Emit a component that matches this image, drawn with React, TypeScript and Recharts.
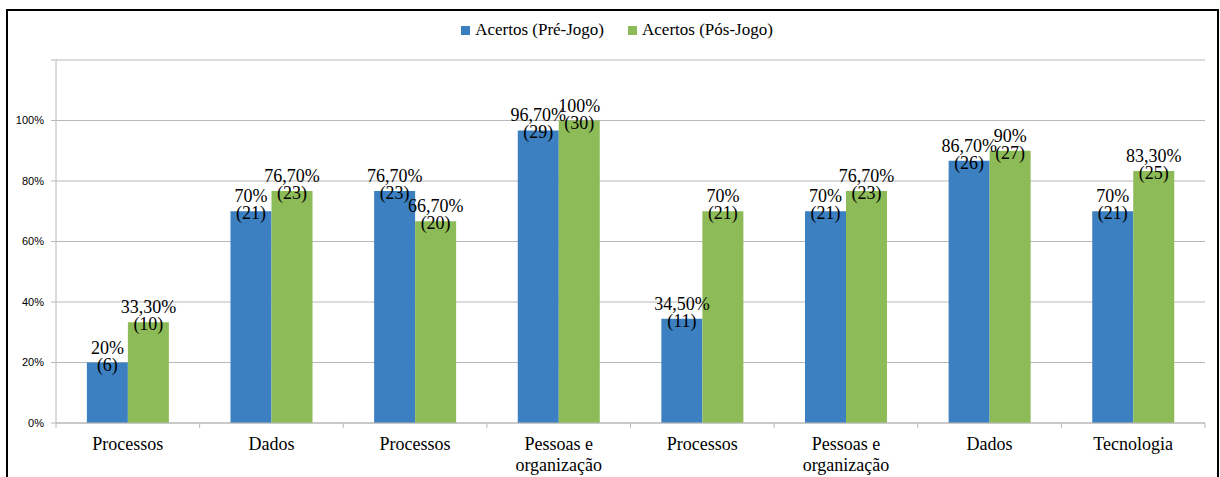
import { Bar, BarChart, CartesianGrid, LabelList, Legend, Text, XAxis, YAxis } from 'recharts'

const categories = [
	'Processos',
	'Dados',
	'Processos',
	'Pessoas e organização',
	'Processos',
	'Pessoas e organização',
	'Dados',
	'Tecnologia',
]
const preJogo = [20, 70, 76.7, 96.7, 34.5, 70, 86.7, 70]
const preCount = [6, 21, 23, 29, 11, 21, 26, 21]
const posJogo = [33.3, 76.7, 66.7, 100, 70, 76.7, 90, 83.3]
const posCount = [10, 23, 20, 30, 21, 23, 27, 25]
const yTicks = [0, 20, 40, 60, 80, 100, 120]

const BLUE = '#3C80C1'
const GREEN = '#8DBB58'
const GRID = '#B8B8B8'
const SERIF = 'Liberation Serif, Tinos, DejaVu Serif, Times New Roman, Times, serif'

const WIDTH = 1220
const HEIGHT = 477
const MARGIN = { top: 60, right: 15, bottom: 0, left: 0 }
const Y_WIDTH = 56
const BAND = (WIDTH - MARGIN.right - MARGIN.left - Y_WIDTH) / categories.length

// "76,70%" style, integers without decimals
const fmtPct = (v: number) =>
	Number.isInteger(v) ? `${v}%` : `${v.toFixed(2).replace('.', ',')}%`

const data = categories.map((name, i) => ({
	name,
	pre: preJogo[i],
	pos: posJogo[i],
	preLabel: `${fmtPct(preJogo[i])}|(${preCount[i]})`,
	posLabel: `${fmtPct(posJogo[i])}|(${posCount[i]})`,
}))

const TwoLineLabel = (props: any) => {
	const { x, y, width, value } = props
	const [top, bottom] = String(value).split('|')
	const cx = Number(x) + Number(width) / 2
	return (
		<text
			x={cx}
			y={Number(y) - 9}
			textAnchor='middle'
			style={{ fontFamily: SERIF, fontSize: 18 }}
			fill='#000'
		>
			<tspan x={cx}>{top}</tspan>
			<tspan x={cx} dy={17}>
				{bottom}
			</tspan>
		</text>
	)
}

// category label plus tick marks on the band boundaries
const CategoryTick = (props: any) => {
	const { x, y, payload, index } = props
	const left = x - BAND / 2
	return (
		<g>
			<line x1={left} x2={left} y1={y} y2={y + 5} stroke={GRID} />
			{index === categories.length - 1 && (
				<line x1={x + BAND / 2} x2={x + BAND / 2} y1={y} y2={y + 5} stroke={GRID} />
			)}
			<Text
				x={x}
				y={y + 14}
				width={BAND - 10}
				textAnchor='middle'
				verticalAnchor='start'
				lineHeight={21}
				style={{ fontFamily: SERIF, fontSize: 18 }}
				fill='#000'
			>
				{payload.value}
			</Text>
		</g>
	)
}

const LegendContent = () => (
	<div
		style={{
			display: 'flex',
			justifyContent: 'center',
			gap: 24,
			paddingLeft: 14,
			fontFamily: SERIF,
			fontSize: 17,
			color: '#000',
		}}
	>
		{[
			{ label: 'Acertos (Pré-Jogo)', color: BLUE },
			{ label: 'Acertos (Pós-Jogo)', color: GREEN },
		].map(item => (
			<div key={item.label} style={{ display: 'flex', alignItems: 'center', gap: 5 }}>
				<span style={{ width: 9, height: 9, background: item.color, display: 'inline-block' }} />
				<span>{item.label}</span>
			</div>
		))}
	</div>
)

export default function App() {
	return (
		<div style={{ position: 'fixed', left: 0, top: 0, width: WIDTH, height: HEIGHT, background: '#fff' }}>
			<div
				style={{
					position: 'absolute',
					left: 6,
					top: 9,
					width: 1213,
					height: 500,
					border: '2px solid #000',
					boxSizing: 'border-box',
				}}
			/>
			<BarChart
				width={WIDTH}
				height={HEIGHT}
				data={data}
				margin={MARGIN}
				barCategoryGap='21.5%'
				barGap={0}
			>
				<CartesianGrid vertical={false} stroke={GRID} />
				<XAxis
					dataKey='name'
					height={54}
					tickLine={false}
					tickSize={0}
					tickMargin={0}
					stroke={GRID}
					interval={0}
					tick={<CategoryTick />}
				/>
				<YAxis
					width={Y_WIDTH}
					domain={[0, 120]}
					ticks={yTicks}
					interval={0}
					tickSize={5}
					tickMargin={7}
					stroke={GRID}
					tick={{ fill: '#000', fontSize: 11, fontFamily: 'Liberation Sans, Arial, sans-serif' }}
					tickFormatter={(v: number) => (v > 100 ? '' : `${v}%`)}
				/>
				<Legend
					verticalAlign='middle'
					align='center'
					layout='horizontal'
					wrapperStyle={{ top: 20, left: 0, width: WIDTH }}
					content={<LegendContent />}
				/>
				<Bar dataKey='pre' name='Acertos (Pré-Jogo)' fill={BLUE} isAnimationActive={false}>
					<LabelList dataKey='preLabel' content={<TwoLineLabel />} />
				</Bar>
				<Bar dataKey='pos' name='Acertos (Pós-Jogo)' fill={GREEN} isAnimationActive={false}>
					<LabelList dataKey='posLabel' content={<TwoLineLabel />} />
				</Bar>
			</BarChart>
		</div>
	)
}
